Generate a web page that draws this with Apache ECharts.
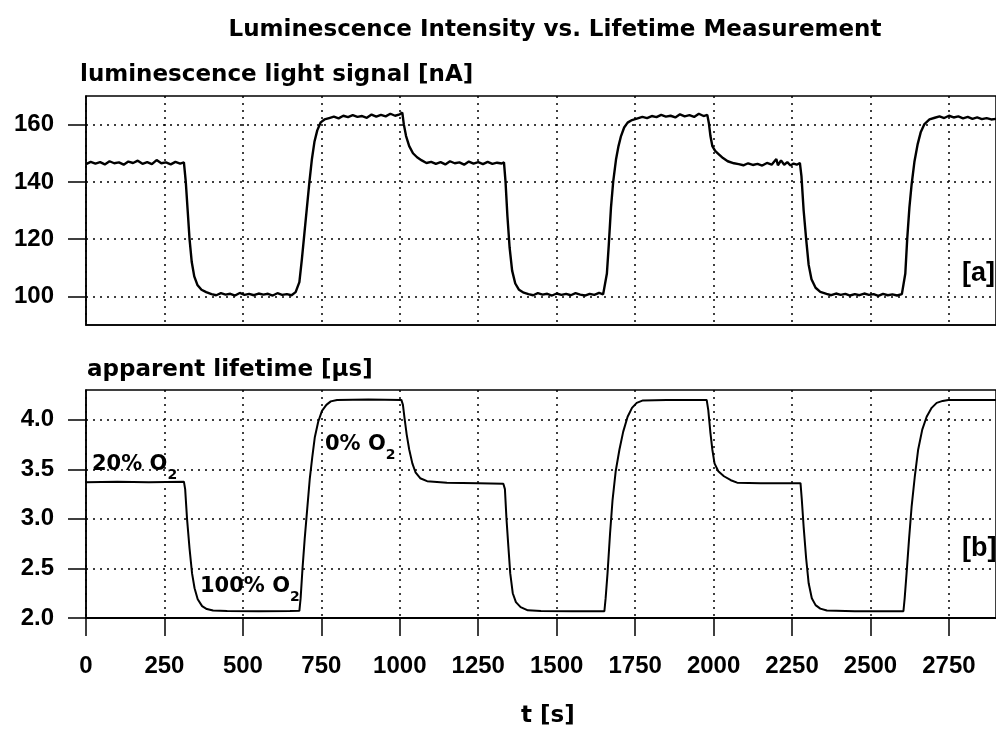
<!DOCTYPE html>
<html>
<head>
<meta charset="utf-8">
<script src="https://cdn.jsdelivr.net/npm/echarts@6/dist/echarts.min.js"></script>
<style>
  html, body { margin: 0; padding: 0; background: #fff; }
  #main { width: 996px; height: 733px; }
</style>
</head>
<body>
<div id="main"></div>
<script>
// time ticks [s]
var timeTicks = [0, 250, 500, 750, 1000, 1250, 1500, 1750, 2000, 2250, 2500, 2750];
var signalTicks = [100, 120, 140, 160];
var lifetimeTicks = [2.0, 2.5, 3.0, 3.5, 4.0];

// [a] luminescence light signal [nA], [t, value]
var signalData = [
  [0,146.2],[15,147.0],[30,146.4],[45,146.9],[60,146.1],[75,147.2],[90,146.5],[105,146.8],[120,146.0],[135,147.1],
  [150,146.6],[165,147.4],[180,146.3],[195,146.9],[210,146.2],[225,147.6],[240,146.5],[255,146.8],[270,146.1],[285,147.0],
  [300,146.4],[312,146.8],
  [318,140],[324,130],[330,120],[337,112],[345,107],[355,104],[368,102.3],[383,101.5],[400,100.8],
  [415,100.4],[430,101.1],[445,100.6],[460,100.9],[475,100.3],[490,101.2],[505,100.5],[520,100.9],[535,100.4],[550,101.0],
  [565,100.6],[580,100.9],[595,100.3],[610,101.1],[625,100.5],[640,100.8],[655,100.4],[668,101.5],[674,101.0],
  [680,105],[688,113],[696,122],[704,131],[712,140],[720,148],[728,154],[737,158],[748,160.8],[760,161.8],[775,162.3],
  [790,162.8],[805,162.2],[820,163.1],[835,162.6],[850,163.3],[865,162.7],[880,163.0],[895,162.4],[910,163.5],[925,162.8],
  [940,163.4],[955,162.9],[970,163.8],[985,163.1],[1000,163.6],[1008,164.2],
  [1013,160],[1020,156],[1030,152.5],[1042,150],[1055,148.6],[1070,147.5],[1085,146.6],
  [1100,147.0],[1115,146.3],[1130,146.9],[1145,146.1],[1160,147.2],[1175,146.5],[1190,146.8],[1205,146.0],[1220,147.1],
  [1235,146.4],[1250,146.9],[1265,146.2],[1280,147.0],[1295,146.3],[1310,146.7],[1325,146.4],[1332,146.8],
  [1337,140],[1343,128],[1350,117],[1358,109],[1368,104.5],[1380,102.3],[1395,101.3],[1410,100.8],
  [1425,100.4],[1440,101.1],[1455,100.6],[1470,100.9],[1485,100.3],[1500,101.0],[1515,100.5],[1530,100.9],[1545,100.4],
  [1560,101.1],[1575,100.6],[1590,100.3],[1605,100.9],[1620,100.5],[1635,101.2],[1648,100.7],[1654,101.3],
  [1660,108],[1666,118],[1673,131],[1680,140],[1689,147.8],[1697,152.5],[1705,156],[1715,159],[1726,160.7],[1740,161.6],[1758,162.2],
  [1773,162.7],[1788,162.3],[1803,163.0],[1818,162.6],[1833,163.4],[1848,162.8],[1863,163.1],[1878,162.5],[1893,163.6],
  [1908,162.9],[1923,163.3],[1938,162.7],[1953,163.8],[1968,163.0],[1980,163.4],
  [1985,160.5],[1990,156],[1996,152.5],[2005,150.8],[2015,149.8],[2030,148.3],[2045,147.2],[2065,146.5],
  [2080,146.2],[2095,145.8],[2110,146.5],[2125,145.9],[2140,146.3],[2155,145.7],[2170,146.6],[2185,146.0],[2200,148.0],
  [2205,145.8],[2215,147.5],[2225,146.0],[2235,146.9],[2245,145.7],[2255,146.4],[2265,146.0],[2275,146.6],
  [2280,142],[2287,130],[2295,120],[2303,111],[2312,106],[2325,103],[2340,101.6],[2360,100.9],
  [2375,100.4],[2390,101.0],[2405,100.5],[2420,100.9],[2435,100.3],[2450,100.8],[2465,100.4],[2480,101.0],[2495,100.5],
  [2510,100.8],[2525,100.2],[2540,100.9],[2555,100.4],[2570,100.7],[2585,100.3],[2600,100.8],[2606,100.6],
  [2611,108],[2617,120],[2624,131],[2631,139],[2640,147],[2650,153],[2660,157.3],[2672,160.2],[2688,161.8],[2705,162.4],
  [2720,162.9],[2735,162.3],[2750,163.1],[2765,162.5],[2780,162.9],[2795,162.2],[2810,162.7],[2825,162.0],[2840,162.5],
  [2855,161.9],[2870,162.3],[2885,161.8],[2900,162.0]
];

// [b] apparent lifetime [µs], [t, value]
var lifetimeData = [
  [0,3.37],[100,3.375],[200,3.37],[312,3.375],[316,3.3],[322,3.0],[330,2.7],[338,2.45],[346,2.3],[356,2.19],
  [370,2.12],[385,2.09],[405,2.075],[450,2.07],[550,2.068],[650,2.07],[680,2.072],
  [684,2.2],[690,2.5],[697,2.8],[705,3.1],[713,3.4],[721,3.62],[729,3.82],[740,3.98],[752,4.09],[766,4.15],[780,4.185],
  [800,4.2],[900,4.205],[1005,4.2],
  [1010,4.15],[1015,4.02],[1022,3.85],[1030,3.7],[1040,3.56],[1050,3.47],[1065,3.41],[1087,3.38],[1150,3.365],[1250,3.36],
  [1330,3.355],[1335,3.3],[1340,3.0],[1346,2.72],[1352,2.45],[1360,2.25],[1370,2.16],[1385,2.11],[1408,2.077],
  [1450,2.07],[1550,2.067],[1652,2.068],
  [1656,2.2],[1662,2.45],[1670,2.85],[1678,3.19],[1688,3.48],[1700,3.7],[1712,3.88],[1726,4.03],[1740,4.12],[1755,4.17],
  [1775,4.195],[1850,4.2],[1978,4.2],
  [1983,4.1],[1990,3.865],[1996,3.7],[2003,3.56],[2015,3.48],[2033,3.43],[2055,3.39],[2075,3.365],[2150,3.36],[2277,3.36],
  [2281,3.2],[2287,2.92],[2295,2.6],[2303,2.35],[2313,2.2],[2325,2.13],[2340,2.095],[2361,2.075],[2450,2.068],[2605,2.068],
  [2609,2.2],[2615,2.45],[2623,2.8],[2631,3.12],[2641,3.42],[2652,3.7],[2665,3.9],[2679,4.03],[2695,4.12],[2711,4.17],
  [2730,4.19],[2748,4.2],[2820,4.2],[2900,4.2]
];

var chart = echarts.init(document.getElementById('main'));
var FONT = 'Liberation Sans, Arial, sans-serif';
var HEAVY = 'DejaVu Sans, Arial, sans-serif';

var dotted = { color: '#000', width: 1.5, type: [2, 5] };

function xAxisOf(gridIndex, withLabels) {
  return {
    type: 'value',
    gridIndex: gridIndex,
    min: 0,
    max: 2900,
    axisLine: { show: true, onZero: false, lineStyle: { color: '#000', width: withLabels ? 2 : 1.5 } },
    axisTick: { show: withLabels, length: 18, inside: false, customValues: timeTicks, lineStyle: { color: '#000', width: 1.5 } },
    axisLabel: {
      show: withLabels, customValues: timeTicks, margin: 36,
      color: '#000', fontFamily: FONT, fontSize: 24, fontWeight: 'bold',
      formatter: function (v) { return String(v); }
    },
    splitLine: { show: true, lineStyle: dotted }
  };
}

// text with a subscript 2
function o2Label(txt, x, y) {
  return {
    type: 'text', left: x, top: y,
    style: {
      text: txt + ' O{s|2}', font: 'bold 21px ' + HEAVY, fill: '#000',
      rich: { s: { fontSize: 14, fontWeight: 'bold', fontFamily: HEAVY, padding: [22, 0, 0, 0] } }
    }
  };
}

var option = {
  backgroundColor: '#fff',
  animation: false,
  grid: [
    { left: 86, top: 96, width: 914, height: 229, show: true, borderColor: '#000', borderWidth: 1.5 },
    { left: 86, top: 390, width: 914, height: 228, show: true, borderColor: '#000', borderWidth: 1.5 }
  ],
  xAxis: [xAxisOf(0, false), xAxisOf(1, true)],
  yAxis: [
    {
      type: 'value', gridIndex: 0, min: 90, max: 170,
      axisLine: { show: true, lineStyle: { color: '#000', width: 1.5 } },
      axisTick: { show: true, length: 18, customValues: signalTicks, lineStyle: { color: '#000', width: 1.5 } },
      axisLabel: { customValues: signalTicks, margin: 32, color: '#000', fontFamily: FONT, fontSize: 24, fontWeight: 'bold' },
      splitLine: { show: true, lineStyle: dotted }
    },
    {
      type: 'value', gridIndex: 1, min: 2.0, max: 4.3,
      axisLine: { show: true, lineStyle: { color: '#000', width: 1.5 } },
      axisTick: { show: true, length: 18, customValues: lifetimeTicks, lineStyle: { color: '#000', width: 1.5 } },
      axisLabel: {
        customValues: lifetimeTicks, margin: 32, color: '#000', fontFamily: FONT, fontSize: 24, fontWeight: 'bold',
        formatter: function (v) { return v.toFixed(1); }
      },
      splitLine: { show: true, lineStyle: dotted }
    }
  ],
  series: [
    {
      name: 'signal', type: 'line', xAxisIndex: 0, yAxisIndex: 0,
      data: signalData, showSymbol: false,
      lineStyle: { color: '#000', width: 2.4 }
    },
    {
      name: 'lifetime', type: 'line', xAxisIndex: 1, yAxisIndex: 1,
      data: lifetimeData, showSymbol: false,
      lineStyle: { color: '#000', width: 2 }
    }
  ],
  graphic: [
    {
      type: 'text', x: 555, y: 19,
      style: { text: 'Luminescence Intensity vs. Lifetime Measurement', font: 'bold 23px ' + HEAVY, fill: '#000', textAlign: 'center' }
    },
    {
      type: 'text', left: 80, top: 64,
      style: { text: 'luminescence light signal [nA]', font: 'bold 23px ' + HEAVY, fill: '#000' }
    },
    {
      type: 'text', left: 87, top: 359,
      style: { text: 'apparent lifetime [µs]', font: 'bold 23px ' + HEAVY, fill: '#000' }
    },
    {
      type: 'text', left: 962, top: 260,
      style: { text: '[a]', font: 'bold 27px ' + FONT, fill: '#000' }
    },
    {
      type: 'text', left: 962, top: 535,
      style: { text: '[b]', font: 'bold 27px ' + FONT, fill: '#000' }
    },
    o2Label('20%', 92, 454),
    o2Label('100%', 200, 576),
    o2Label('0%', 325, 434),
    {
      type: 'text', left: 521, top: 705,
      style: { text: 't [s]', font: 'bold 23px ' + HEAVY, fill: '#000' }
    }
  ]
};

chart.setOption(option);
</script>
</body>
</html>
